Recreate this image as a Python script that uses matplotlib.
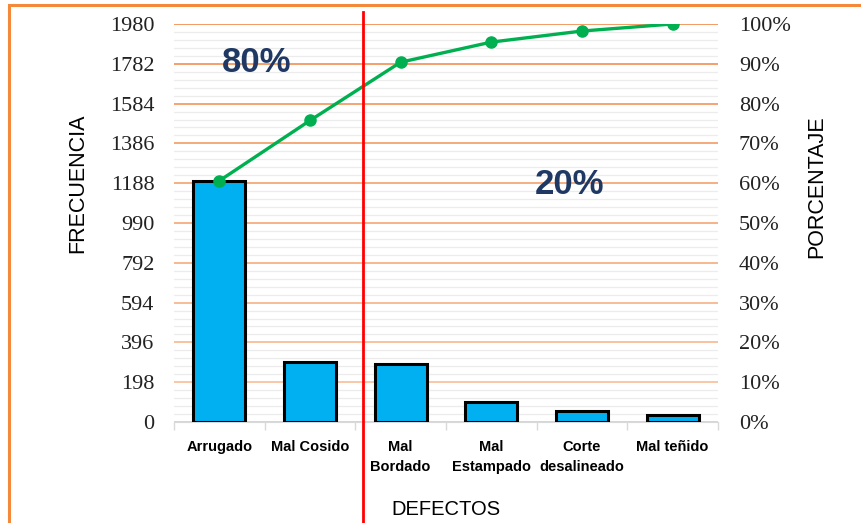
import numpy as np
import matplotlib
matplotlib.use("Agg")
import matplotlib.pyplot as plt
from matplotlib.patches import Rectangle
from matplotlib.transforms import blended_transform_factory
from matplotlib.ticker import MultipleLocator, PercentFormatter

# data
defectos = ['Arrugado', 'Mal Cosido', 'Mal\nBordado', 'Mal\nEstampado', 'Corte\ndesalineado', 'Mal teñido']
frecuencia = [1200, 300, 290, 100, 55, 35]
ticks_frec = [0, 198, 396, 594, 792, 990, 1188, 1386, 1584, 1782, 1980]
ticks_pct = [0, 0.1, 0.2, 0.3, 0.4, 0.5, 0.6, 0.7, 0.8, 0.9, 1.0]

acumulado = np.cumsum(frecuencia) / sum(frecuencia)

sans = ['Liberation Sans', 'DejaVu Sans']
serif = ['Liberation Serif', 'DejaVu Serif']

fig = plt.figure(figsize=(8.61, 5.23), dpi=100)
ax = fig.add_axes([174/861, 1-422/523, 544/861, 398/523])

x = np.arange(len(defectos))
ax.bar(x, frecuencia, width=0.57, color='#00B0F0', edgecolor='black', linewidth=2.2, zorder=3)
ax.set_xlim(-0.5, 5.5)
ax.set_ylim(0, 1980)
ax.set_axisbelow(True)

# y axis (left)
ax.set_yticks(ticks_frec)
ax.set_yticklabels([str(t) for t in ticks_frec], fontfamily=serif, fontsize=16, color='#222222')
ax.yaxis.set_minor_locator(MultipleLocator(39.6))
ax.tick_params(axis='y', which='both', length=0, pad=14)
ax.grid(axis='y', which='minor', color='#ECECEC', lw=0.9)
ax.grid(axis='y', which='major', lw=1.1)
grid_cols = plt.cm.colors.LinearSegmentedColormap.from_list('g', ['#F7BE98', '#EF7F3A'])
for i, gl in enumerate(ax.get_ygridlines()):
    gl.set_color(grid_cols(i / 10))

# x axis
ax.set_xticks(x)
ax.set_xticklabels(defectos, fontfamily=sans, fontweight='bold',
                   fontsize=10.5, linespacing=1.5, va='top')
ax.set_xticks(np.arange(-0.5, 6, 1), minor=True)
ax.tick_params(axis='x', which='major', length=0, pad=13)
ax.tick_params(axis='x', which='minor', length=6, color='#D9D9D9', width=1)

for s in ['top', 'left', 'right']:
    ax.spines[s].set_visible(False)
ax.spines['bottom'].set_color('#D9D9D9')

ax.set_ylabel('FRECUENCIA', fontfamily=sans, fontsize=15.5, labelpad=16)
ax.yaxis.label.set_y(0.60)
ax.set_xlabel('DEFECTOS', fontfamily=sans, fontsize=14.5, labelpad=19)

# cumulative percent (right)
ax2 = ax.twinx()
ax2.plot(x, acumulado, color='#00B050', lw=2.4, marker='o', ms=8, zorder=5)
ax2.set_ylim(0, 1)
ax2.set_yticks(ticks_pct)
ax2.yaxis.set_major_formatter(PercentFormatter(1.0, decimals=0))
for lab in ax2.get_yticklabels():
    lab.set_fontfamily(serif)
    lab.set_fontsize(16)
    lab.set_color('#222222')
ax2.tick_params(axis='y', length=0, pad=15)
for s in ax2.spines.values():
    s.set_visible(False)
ax2.set_ylabel('PORCENTAJE', fontfamily=sans, fontsize=15.5, labelpad=11)
ax2.yaxis.label.set_y(0.59)

# 80/20 split line
trans = blended_transform_factory(ax.transData, fig.transFigure)
ax2.plot([1.59, 1.59], [-0.05, 1 - 12/523], transform=trans, color='#FF0000', lw=2,
         clip_on=False, zorder=6)

fig.text(257/861, 1 - 62/523, '80%', fontfamily=sans,
         fontweight='bold', fontsize=25, color='#1F3864', ha='center', va='center')
fig.text(570/861, 1 - 185/523, '20%', fontfamily=sans,
         fontweight='bold', fontsize=25, color='#1F3864', ha='center', va='center')

# orange frame
fig.patches.append(Rectangle((9/861, -0.1), 1.2, 1 - 5/523 + 0.1, transform=fig.transFigure,
                             fill=False, edgecolor='#F5893A', lw=2.2))

fig.savefig('out.png', dpi=100)
